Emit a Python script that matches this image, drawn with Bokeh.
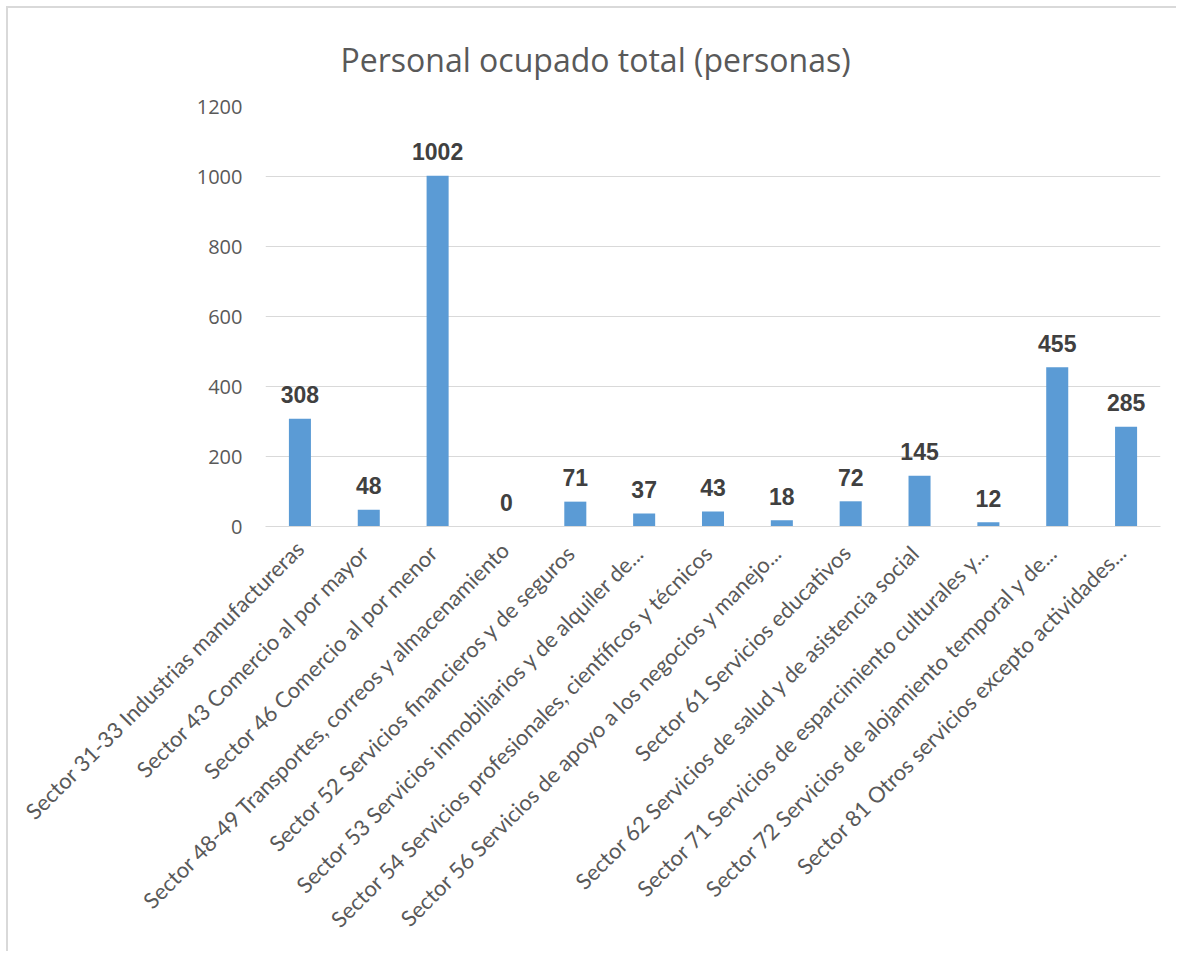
import math
from bokeh.plotting import figure
from bokeh.models import ColumnDataSource, Range1d
from bokeh.core.properties import value
from bokeh.embed import file_html
from bokeh.resources import INLINE

categories = [
    "Sector 31-33 Industrias manufactureras",
    "Sector 43  Comercio al por mayor",
    "Sector 46  Comercio al por menor",
    "Sector 48-49 Transportes, correos y almacenamiento",
    "Sector 52  Servicios financieros y de seguros",
    "Sector 53  Servicios inmobiliarios y de alquiler de...",
    "Sector 54  Servicios profesionales, científicos y técnicos",
    "Sector 56  Servicios de apoyo a los negocios y manejo...",
    "Sector 61  Servicios educativos",
    "Sector 62  Servicios de salud y de asistencia social",
    "Sector 71  Servicios de esparcimiento culturales y...",
    "Sector 72  Servicios de alojamiento temporal y de...",
    "Sector 81  Otros servicios excepto actividades...",
]
values = [308, 48, 1002, 0, 71, 37, 43, 18, 72, 145, 12, 455, 285]
labels = [str(v) for v in values]
title_text = "Personal ocupado total (personas)"
y_ticks = [0, 200, 400, 600, 800, 1000, 1200]

src = ColumnDataSource(dict(cat=categories, val=values, lab=labels))

p = figure(
    x_range=categories,
    y_range=Range1d(0, 1200),
    width=1170, height=945,
    output_backend="svg", toolbar_location=None,
    min_border_left=257, min_border_right=18,
    min_border_top=98, min_border_bottom=427,
)
p.styles = {"margin-left": "6px", "margin-top": "6px",
            "border-top": "2px solid #d9d9d9", "border-left": "2px solid #d9d9d9",
            "box-sizing": "border-box"}

p.vbar(x="cat", top="val", width=0.32, source=src, color="#5B9BD5", line_color=None)

p.text(x="cat", y="val", text="lab", source=src, y_offset=-24,
       text_align="center", text_baseline="alphabetic",
       text_font=value("Liberation Sans"), text_font_style="bold",
       text_font_size="23px", text_color="#404040")

p.title.text = title_text
p.title.align = "left"
p.title.offset = 75
p.title.text_font = "Open Sans"
p.title.text_font_size = "32px"
p.title.text_font_style = "normal"
p.title.text_color = "#595959"
p.title.standoff = 52

p.outline_line_color = None
p.xgrid.grid_line_color = None
p.ygrid.grid_line_color = "#d9d9d9"
p.ygrid.grid_line_width = 1
p.yaxis.ticker = y_ticks
p.yaxis.axis_line_color = None
p.yaxis.major_tick_line_color = None
p.yaxis.minor_tick_line_color = None
p.yaxis.major_label_text_font = "Open Sans"
p.yaxis.major_label_text_font_size = "20px"
p.yaxis.major_label_text_color = "#595959"
p.yaxis.major_label_standoff = 17

p.xaxis.axis_line_color = "#d9d9d9"
p.xaxis.major_tick_line_color = None
p.xaxis.minor_tick_line_color = None
p.xaxis.major_label_orientation = math.pi / 4
p.xaxis.major_label_text_font = "Lato"
p.xaxis.major_label_text_font_size = "22px"
p.xaxis.major_label_text_color = "#595959"
p.xaxis.major_label_standoff = 12

open("out.html", "w").write(file_html(p, INLINE))
